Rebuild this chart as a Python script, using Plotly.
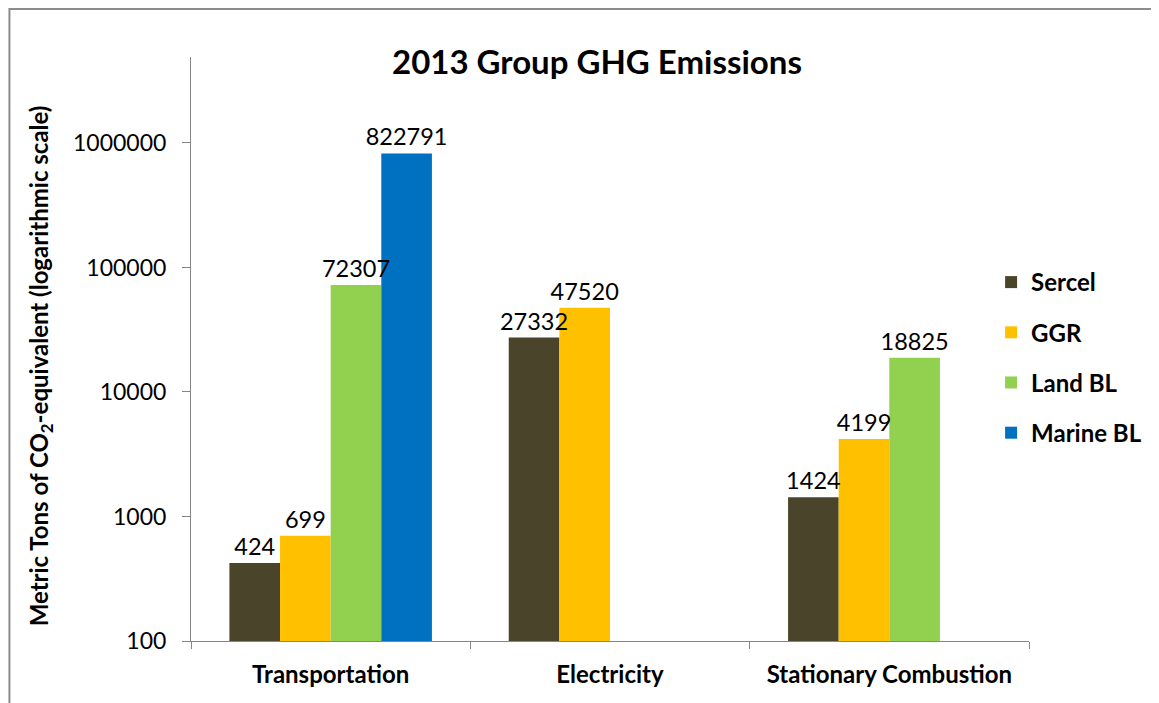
import plotly.graph_objects as go
import math

# categories and series (metric tons CO2e, 2013)
categories = ["Transportation", "Electricity", "Stationary Combustion"]
sercel = [424, 27332, 1424]
ggr = [699, 47520, 4199]
land_bl = [72307, None, 18825]
marine_bl = [822791, None, None]

series_names = ["Sercel", "GGR", "Land BL", "Marine BL"]
series_values = [sercel, ggr, land_bl, marine_bl]
colors = ["#4A452A", "#FFC000", "#92D050", "#0070C0"]

y_ticks = [100, 1000, 10000, 100000, 1000000]
y_ticktext = ["100", "1000", "10000", "100000", "1000000"]

FONT = "Lato"
AXIS_GRAY = "#868686"

fig = go.Figure()
# the coloured bars first
for i, (name, vals) in enumerate(zip(series_names, series_values)):
    fig.add_trace(go.Bar(
        x=categories,
        y=vals,
        name=name,
        legendgroup=name,
        offsetgroup=name,
        marker=dict(color=colors[i], line=dict(width=0)),
    ))
# then transparent copies carrying the value labels, so labels sit on top of all bars
# (a wide transparent outline pushes the labels a bit higher, like Excel does)
for name, vals in zip(series_names, series_values):
    fig.add_trace(go.Bar(
        x=categories,
        y=vals,
        name=name,
        legendgroup=name,
        offsetgroup=name,
        showlegend=False,
        hoverinfo="skip",
        marker=dict(color="rgba(0,0,0,0)", line=dict(width=16, color="rgba(0,0,0,0)")),
        text=[str(v) if v is not None else "" for v in vals],
        textposition="outside",
        constraintext="none",
        cliponaxis=False,
        textfont=dict(family=FONT, size=23.5, color="black"),
    ))

# page body has an 8px margin, so the figure is laid out in its own coords
W, H = 1151, 695
left, right, top, bottom = 183, 1023, 49, 633
pw, ph = right - left, bottom - top

def px_x(x):
    return (x - left) / pw

def px_y(y):
    return (bottom - y) / ph

fig.update_layout(
    width=W, height=H,
    barmode="group",
    bargap=0.275,
    bargroupgap=0,
    plot_bgcolor="white",
    paper_bgcolor="white",
    font=dict(family=FONT, color="black"),
    margin=dict(l=left, r=W - right, t=top, b=H - bottom, pad=0),
    title=dict(
        text="<b>2013 Group GHG Emissions</b>",
        font=dict(family=FONT, size=33, color="black"),
        x=589 / W, xanchor="center",
        y=1 - 54 / H, yanchor="middle",
    ),
    legend=dict(
        x=px_x(985), xanchor="left",
        y=px_y(252), yanchor="top",
        traceorder="grouped",
        tracegroupgap=16,
        font=dict(family=FONT, size=24, color="black", weight="bold"),
        itemwidth=30,
        bgcolor="rgba(0,0,0,0)",
    ),
    xaxis=dict(
        tickson="boundaries",
        ticks="outside", ticklen=7, tickcolor=AXIS_GRAY, tickwidth=1,
        showline=True, linecolor=AXIS_GRAY, linewidth=1,
        showgrid=False,
        tickfont=dict(family=FONT, size=24, color="black", weight="bold"),
        ticklabelstandoff=12,
    ),
    yaxis=dict(
        type="log",
        range=[2, math.log10(4.9e6)],
        tickvals=y_ticks, ticktext=y_ticktext,
        ticks="outside", ticklen=8, tickcolor=AXIS_GRAY, tickwidth=1,
        showline=True, linecolor=AXIS_GRAY, linewidth=1,
        showgrid=False, zeroline=False,
        tickfont=dict(family=FONT, size=23, color="black"),
        ticklabelstandoff=11,
    ),
    annotations=[dict(
        text="<b>Metric Tons of CO<sub>2</sub>-equivalent (logarithmic scale)</b>",
        xref="paper", yref="paper",
        x=px_x(32), y=px_y(358),
        xanchor="center", yanchor="middle",
        textangle=-90, showarrow=False,
        font=dict(family=FONT, size=24, color="black"),
    )],
    shapes=[dict(
        type="rect", xref="paper", yref="paper",
        x0=px_x(1), x1=px_x(W + 5), y0=px_y(H + 5), y1=px_y(1),
        line=dict(color="#8C8C8C", width=2),
        fillcolor="rgba(0,0,0,0)", layer="below",
    )],
)

fig.write_html("out.html")
